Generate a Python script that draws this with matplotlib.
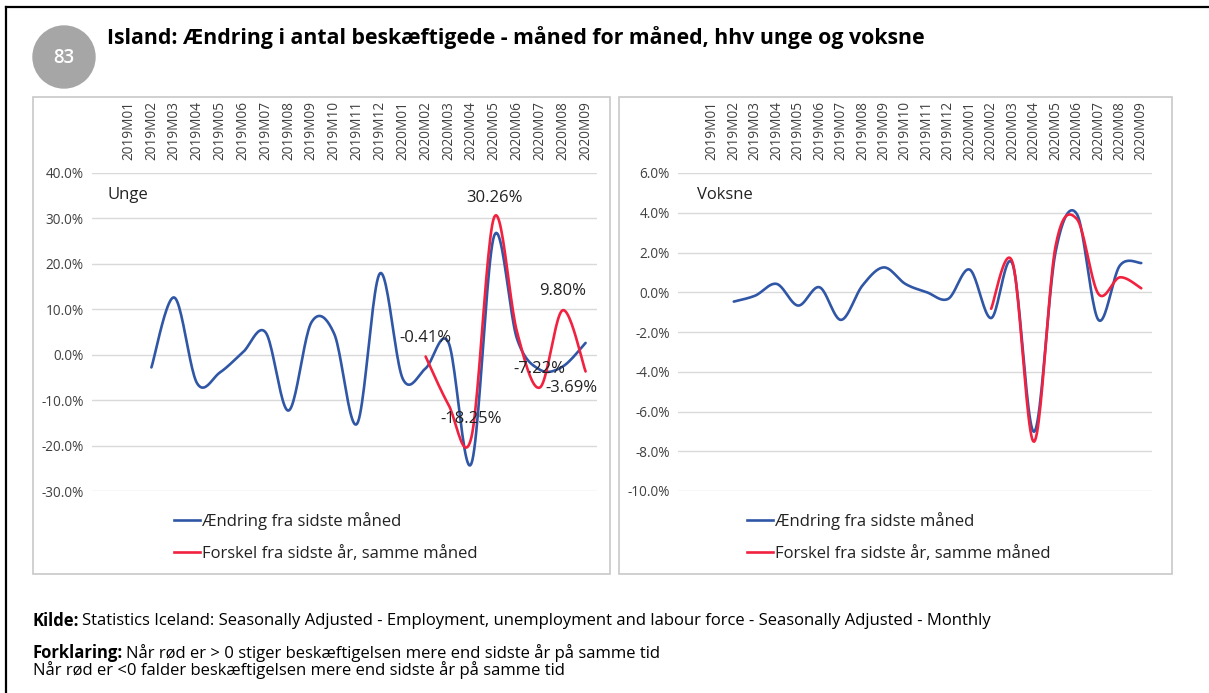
import numpy as np
import matplotlib
matplotlib.use("Agg")
import matplotlib.pyplot as plt
from matplotlib.patches import Circle, Rectangle
from matplotlib.lines import Line2D
from matplotlib.ticker import FuncFormatter

plt.rcParams['font.family'] = ['Open Sans', 'DejaVu Sans']

# --- data (percent) ---
months = ['2019M01', '2019M02', '2019M03', '2019M04', '2019M05', '2019M06', '2019M07',
          '2019M08', '2019M09', '2019M10', '2019M11', '2019M12', '2020M01', '2020M02',
          '2020M03', '2020M04', '2020M05', '2020M06', '2020M07', '2020M08', '2020M09']

unge_maaned = [None, -2.8, 12.6, -6.3, -3.9, 0.5, 4.9, -12.3, 7.1, 4.6, -15.2, 17.9,
               -5.3, -3.0, 2.7, -24.0, 26.2, 3.5, -3.3, -2.6, 2.6]
unge_aar = [None] * 13 + [-0.41, -11.0, -18.25, 30.26, 5.0, -7.22, 9.80, -3.69]

voksne_maaned = [None, -0.47, -0.17, 0.42, -0.67, 0.25, -1.39, 0.34, 1.25, 0.42, 0.0,
                 -0.33, 1.14, -1.3, 1.42, -7.02, 2.0, 3.93, -1.39, 1.34, 1.47]
voksne_aar = [None] * 13 + [-0.83, 1.5, -7.52, 2.3, 3.68, -0.08, 0.75, 0.2]

unge_labels = {13: '-0.41%', 15: '-18.25%', 16: '30.26%', 18: '-7.22%', 19: '9.80%', 20: '-3.69%'}

BLUE = '#3056A6'
RED = '#F2213F'
GRID = '#D9D9D9'
TXT = '#404040'


def smooth(values, n=24):
    """Excel-like smoothed line (Bezier through the points)."""
    idx = [i for i, v in enumerate(values) if v is not None]
    pts = np.array([[i, values[i]] for i in idx], dtype=float)
    out = []
    for i in range(len(pts) - 1):
        p0 = pts[max(i - 1, 0)]
        p1 = pts[i]
        p2 = pts[i + 1]
        p3 = pts[min(i + 2, len(pts) - 1)]
        c1 = p1 + (p2 - p0) / 6
        c2 = p2 - (p3 - p1) / 6
        t = np.linspace(0, 1, n)[:, None]
        out.append((1 - t) ** 3 * p1 + 3 * (1 - t) ** 2 * t * c1 + 3 * (1 - t) * t ** 2 * c2 + t ** 3 * p2)
    return np.vstack(out)


def draw_panel(ax, blue, red, ylim, step, name, name_x, labels=None):
    for y in np.arange(ylim[0], ylim[1] + step / 2, step):
        ax.axhline(y, color=GRID, lw=1, zorder=0)
    b = smooth(blue)
    r = smooth(red)
    ax.plot(b[:, 0], b[:, 1], color=BLUE, lw=1.9, solid_capstyle='round')
    ax.plot(r[:, 0], r[:, 1], color=RED, lw=1.9, solid_capstyle='round')
    ax.set_xlim(-1.6, 20.5)
    ax.set_ylim(*ylim)
    ax.set_yticks(np.arange(ylim[0], ylim[1] + step / 2, step))
    ax.yaxis.set_major_formatter(FuncFormatter(lambda v, p: f'{v:.1f}%'))
    ax.set_xticks(range(len(months)))
    ax.set_xticklabels(months)
    ax.xaxis.tick_top()
    ax.tick_params(axis='x', rotation=90, length=0, pad=9, labelsize=9.8, colors=TXT)
    ax.tick_params(axis='y', length=0, pad=6, labelsize=9.8, colors=TXT)
    for s in ax.spines.values():
        s.set_visible(False)
    ax.text(name_x, 0.931, name, transform=ax.transAxes, fontsize=12, color='#222222',
            va='center')
    if labels:
        for i, txt in labels.items():
            off = (-14, -17) if i == 20 else (0, 19)
            ax.annotate(txt, (i, red[i]), xytext=off, textcoords='offset pixels',
                        ha='center', va='center', fontsize=12, color='#222222')
    handles = [Line2D([], [], color=BLUE, lw=1.9), Line2D([], [], color=RED, lw=1.9)]
    return handles


fig = plt.figure(figsize=(12.09, 6.93), dpi=100)
W, H = 1209, 693


def fx(px):
    return px / W


def fy(py):
    return 1 - py / H


# page frame
fig.add_artist(Line2D([fx(6), fx(6)], [fy(7), 0], color='black', lw=1.6))
fig.add_artist(Line2D([fx(6), 1], [fy(7), fy(7)], color='black', lw=1.6))

# panel frames
for x0, x1 in [(33, 610), (619, 1172)]:
    fig.add_artist(Rectangle((fx(x0), fy(574)), fx(x1 - x0), (574 - 97) / H,
                             fill=False, edgecolor='#C8C8C8', lw=1.2))

# badge and title
fig.add_artist(Circle((64 / 100, (H - 57) / 100), 31 / 100, color='#A6A6A6',
                      transform=fig.dpi_scale_trans))
fig.text(fx(64), fy(58), '83', color='white', fontsize=13.5, fontweight='semibold',
         ha='center', va='center')
fig.text(fx(107), fy(38), 'Island: Ændring i antal beskæftigede - måned for måned, hhv unge og voksne',
         fontsize=15.3, fontweight='bold', va='center', color='black')

ax1 = fig.add_axes([fx(92), fy(491), fx(597 - 92), (491 - 173) / H])
ax2 = fig.add_axes([fx(678), fy(491), fx(1152 - 678), (491 - 173) / H])

h = draw_panel(ax1, unge_maaned, unge_aar, (-30, 40), 10, 'Unge', 0.03, unge_labels)
draw_panel(ax2, voksne_maaned, voksne_aar, (-10, 6), 2, 'Voksne', 0.04)

leg_names = ['Ændring fra sidste måned', 'Forskel fra sidste år, samme måned']
for ax, x0 in [(ax1, 174), (ax2, 747)]:
    ax.legend(h, leg_names, loc='upper left', bbox_to_anchor=(fx(x0), fy(512)),
              bbox_transform=fig.transFigure, frameon=False, fontsize=12,
              handlelength=1.55, handletextpad=0.15, labelspacing=0.95,
              borderpad=0, borderaxespad=0, labelcolor='#222222')

# footer
fig.canvas.draw()
rend = fig.canvas.get_renderer()


def rich(x, y, bold, rest):
    t = fig.text(fx(x), fy(y), bold, fontsize=12, fontweight='bold', va='center')
    bb = t.get_window_extent(rend)
    fig.text(bb.x1 / W + 3 / W, fy(y), rest, fontsize=12, va='center')


rich(33, 621, 'Kilde:', 'Statistics Iceland: Seasonally Adjusted - Employment, unemployment and labour force - Seasonally Adjusted - Monthly')
rich(33, 653, 'Forklaring:', 'Når rød er > 0 stiger beskæftigelsen mere end sidste år på samme tid')
fig.text(fx(33), fy(670), 'Når rød er <0 falder beskæftigelsen mere end sidste år på samme tid',
         fontsize=12, va='center')

fig.savefig('out.png', dpi=100)
